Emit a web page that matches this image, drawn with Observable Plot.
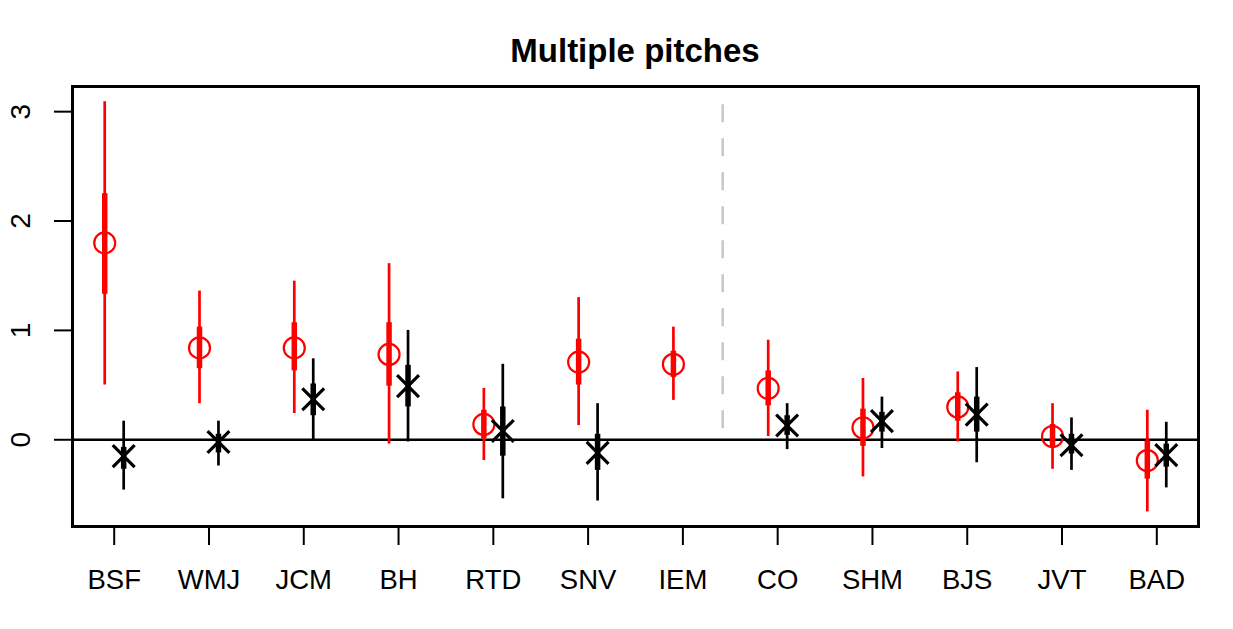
<!DOCTYPE html>
<html>
<head>
<meta charset="utf-8">
<script src="https://cdn.jsdelivr.net/npm/d3@7"></script>
<script src="https://cdn.jsdelivr.net/npm/@observablehq/plot@0.6"></script>
<style>
  html, body { margin: 0; padding: 0; background: #fff; }
  #wrap { position: relative; width: 1233px; height: 629px; font-family: "Liberation Sans", Arial, sans-serif; }
  #wrap svg { position: absolute; left: 0; top: 0; z-index: 0; }
  #title { position: absolute; left: 72px; width: 1126px; top: 34px; text-align: center; z-index: 1;
           font: bold 33px "Liberation Sans", Arial, sans-serif; line-height: 33px; color: #000; }
</style>
</head>
<body>
<div id="wrap"><div id="title">Multiple pitches</div></div>
<script>
const cats = ["BSF","WMJ","JCM","BH","RTD","SNV","IEM","CO","SHM","BJS","JVT","BAD"];
const yTicks = [0, 1, 2, 3];

// red series (open circles): point estimate, 50% and 95% intervals
const redEst  = [1.80, 0.84, 0.84, 0.78, 0.14, 0.71, 0.69, 0.47, 0.11, 0.30, 0.03, -0.19];
const redLo95 = [0.50, 0.33, 0.24, -0.04, -0.19, 0.13, 0.36, 0.03, -0.34, -0.02, -0.27, -0.66];
const redHi95 = [3.09, 1.36, 1.45, 1.61, 0.47, 1.30, 1.03, 0.91, 0.56, 0.62, 0.33, 0.27];
const redLo50 = [1.33, 0.65, 0.63, 0.49, 0.01, 0.50, 0.57, 0.31, -0.06, 0.17, -0.07, -0.36];
const redHi50 = [2.25, 1.03, 1.07, 1.07, 0.27, 0.92, 0.81, 0.63, 0.28, 0.43, 0.14, -0.01];

// black series (crosses)
const blkEst  = [-0.15, -0.02, 0.37, 0.49, 0.08, -0.12, null, 0.13, 0.17, 0.23, -0.05, -0.14];
const blkLo95 = [-0.46, -0.24, 0.00, -0.02, -0.54, -0.56, null, -0.09, -0.08, -0.21, -0.28, -0.44];
const blkHi95 = [0.17, 0.17, 0.74, 1.00, 0.69, 0.33, null, 0.33, 0.39, 0.66, 0.20, 0.16];
const blkLo50 = [-0.27, -0.12, 0.22, 0.30, -0.15, -0.28, null, 0.04, 0.07, 0.07, -0.13, -0.25];
const blkHi50 = [-0.07, 0.05, 0.51, 0.68, 0.30, 0.05, null, 0.22, 0.25, 0.39, 0.05, -0.04];

// dashed separator: position between groups and vertical extent
const sepX = [7.42];
const sepY = [0.10, 3.07];

const OFF = 0.1;
const red = cats.map((c, i) => ({cat: c, x: i + 1 - OFF, est: redEst[i], lo95: redLo95[i], hi95: redHi95[i], lo50: redLo50[i], hi50: redHi50[i]}));
const blk = cats.map((c, i) => ({cat: c, x: i + 1 + OFF, est: blkEst[i], lo95: blkLo95[i], hi95: blkHi95[i], lo50: blkLo50[i], hi50: blkHi50[i]}))
  .filter(d => d.est != null);

const chart = Plot.plot({
  width: 1233,
  height: 629,
  marginLeft: 72,
  marginRight: 35,
  marginTop: 86,
  marginBottom: 103,
  style: {fontFamily: "'Liberation Sans', Arial, sans-serif", background: "transparent", color: "#000"},
  x: {type: "linear", domain: [0.56, 12.44], axis: null},
  y: {type: "linear", domain: [-0.793, 3.23], axis: null},
  marks: [
    Plot.ruleX(sepX, {x: d => d, y1: sepY[0], y2: sepY[1], stroke: "#c8c8c8", strokeWidth: 2.5, strokeDasharray: "18 16"}),
    Plot.ruleY([0], {stroke: "#000", strokeWidth: 2.5}),
    // red
    Plot.ruleX(red, {x: "x", y1: "lo95", y2: "hi95", stroke: "#ff0000", strokeWidth: 2.7}),
    Plot.ruleX(red, {x: "x", y1: "lo50", y2: "hi50", stroke: "#ff0000", strokeWidth: 5.5}),
    Plot.dot(red, {x: "x", y: "est", r: 10.5, stroke: "#ff0000", strokeWidth: 2.2, fill: "none"}),
    // black
    Plot.ruleX(blk, {x: "x", y1: "lo95", y2: "hi95", stroke: "#000", strokeWidth: 2.7}),
    Plot.ruleX(blk, {x: "x", y1: "lo50", y2: "hi50", stroke: "#000", strokeWidth: 5.5}),
    Plot.dot(blk, {x: "x", y: "est", r: 10, symbol: "times", stroke: "#000", strokeWidth: 3.2}),
    // axes
    Plot.axisX({ticks: d3.range(1, cats.length + 1), tickFormat: d => cats[d - 1], tickSize: 19, tickPadding: 24, fontSize: 27.5, strokeWidth: 2, anchor: "bottom", label: null}),
    Plot.axisY({ticks: yTicks, tickFormat: d => String(d), tickSize: 18, tickPadding: 25, tickRotate: -90, fontSize: 28, strokeWidth: 2, anchor: "left", label: null}),
    Plot.frame({stroke: "#000", strokeWidth: 3})
  ]
});
document.getElementById("wrap").insertBefore(chart, document.getElementById("title"));
</script>
</body>
</html>
